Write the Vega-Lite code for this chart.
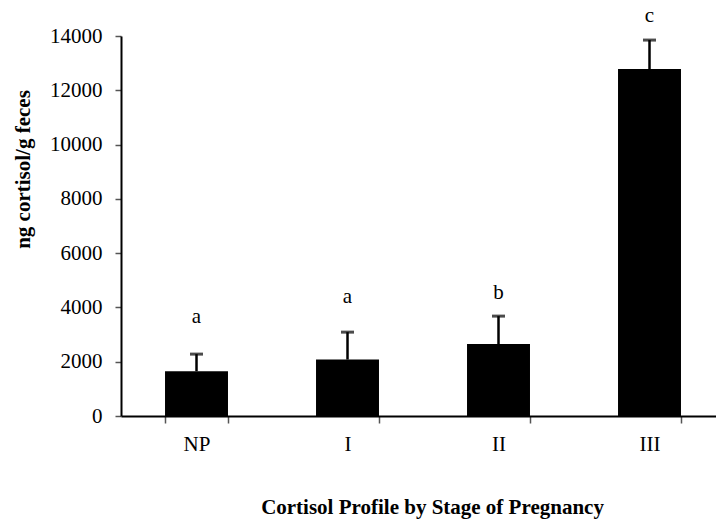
{
  "$schema": "https://vega.github.io/schema/vega-lite/v6.json",
  "width": 595,
  "height": 380,
  "autosize": "none",
  "padding": {"left": 121, "top": 36, "right": 0, "bottom": 109},
  "background": "white",
  "config": {
    "view": {"stroke": null},
    "axis": {"grid": false, "labelFont": "Liberation Serif", "titleFont": "Liberation Serif", "labelColor": "black", "titleColor": "black", "domainColor": "black", "tickColor": "black"}
  },
  "data": {
    "values": [
      {"stage": "NP", "mean": 1650, "upper": 2280, "letter": "a", "ly": 3650},
      {"stage": "I", "mean": 2080, "upper": 3090, "letter": "a", "ly": 4400},
      {"stage": "II", "mean": 2650, "upper": 3680, "letter": "b", "ly": 4530},
      {"stage": "III", "mean": 12780, "upper": 13850, "letter": "c", "ly": 14740}
    ]
  },
  "encoding": {
    "x": {
      "field": "stage", "type": "nominal", "sort": ["NP", "I", "II", "III"],
      "scale": {"paddingInner": 0.583, "paddingOuter": 0.2617, "align": 0.557},
      "axis": {
        "title": "Cortisol Profile by Stage of Pregnancy",
        "titleFontSize": 21, "titleFontWeight": "bold",
        "titleX": 311, "titleY": 97, "titleBaseline": "alphabetic", "titleAlign": "center",
        "labelAngle": 0, "labelFontSize": 21, "labelPadding": 10, "labelBaseline": "top",
        "tickBand": "extent", "tickSize": 7, "tickWidth": 1.5, "tickColor": "#555555", "domainWidth": 2
      }
    }
  },
  "layer": [
    {
      "mark": {"type": "bar", "color": "black"},
      "encoding": {
        "y": {
          "field": "mean", "type": "quantitative",
          "scale": {"domain": [0, 14000], "nice": false},
          "axis": {
            "title": "ng cortisol/g feces", "titleFontSize": 21, "titleFontWeight": "bold",
            "titleX": -98, "titleY": 133, "titleBaseline": "middle", "titleAngle": -90,
            "values": [0, 2000, 4000, 6000, 8000, 10000, 12000, 14000], "format": "d",
            "labelFontSize": 21, "labelPadding": 13, "tickSize": 6, "tickWidth": 1.5, "tickColor": "#555555", "domainWidth": 2
          }
        }
      }
    },
    {
      "mark": {"type": "rule", "color": "black", "strokeWidth": 2.5},
      "encoding": {"y": {"field": "mean", "type": "quantitative"}, "y2": {"field": "upper"}}
    },
    {
      "mark": {"type": "tick", "color": "black", "size": 13, "thickness": 3, "orient": "horizontal"},
      "encoding": {"y": {"field": "upper", "type": "quantitative"}}
    },
    {
      "mark": {"type": "text", "font": "Liberation Serif", "fontSize": 21, "color": "black", "baseline": "middle"},
      "encoding": {"y": {"field": "ly", "type": "quantitative"}, "text": {"field": "letter"}}
    }
  ]
}
